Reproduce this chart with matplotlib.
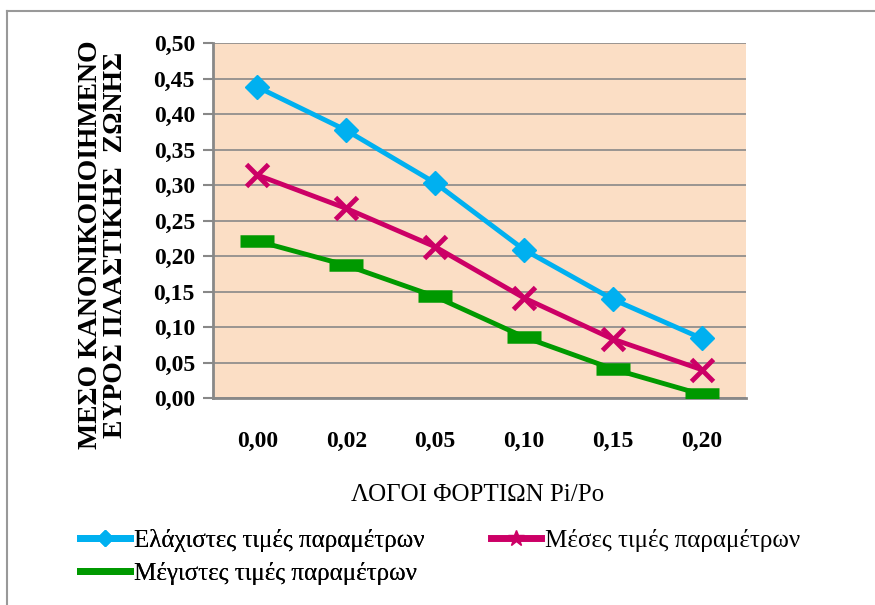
import numpy as np
import matplotlib.pyplot as plt
from matplotlib.lines import Line2D

# data
ratios = ['0,00', '0,02', '0,05', '0,10', '0,15', '0,20']
min_vals = [0.438, 0.377, 0.303, 0.209, 0.139, 0.084]
mean_vals = [0.314, 0.267, 0.213, 0.141, 0.083, 0.040]
max_vals = [0.221, 0.187, 0.143, 0.086, 0.041, 0.005]
series_names = ['Ελάχιστες τιμές παραμέτρων', 'Μέσες τιμές παραμέτρων', 'Μέγιστες τιμές παραμέτρων']
yticks = [0.0, 0.05, 0.10, 0.15, 0.20, 0.25, 0.30, 0.35, 0.40, 0.45, 0.50]

serif = ['Liberation Serif', 'DejaVu Serif']
plt.rcParams['font.family'] = serif

fig = plt.figure(figsize=(8.75, 6.05), dpi=100)
ax = fig.add_axes([213/875, 1-398/605, (746-213)/875, (398-43)/605])
ax.set_facecolor('#FBDEC5')

x = np.arange(len(ratios))
ax.plot(x, min_vals, color='#00B0F0', lw=3.5, marker='D', ms=12, zorder=3)
ax.plot(x, mean_vals, color='#CC0066', lw=3.5, marker='x', ms=16, mew=3.5, zorder=3)
ax.plot(x, max_vals, color='#009900', lw=3.5, marker='_', ms=24, mew=9, zorder=3)

ax.set_xlim(-0.5, 5.5)
ax.set_ylim(0, 0.5)
ax.set_yticks(yticks)
ax.set_yticklabels([f'{v:.2f}'.replace('.', ',') for v in yticks], fontsize=17, fontweight='bold', family=serif)
ax.set_xticks(x)
ax.set_xticklabels(ratios, fontsize=17, fontweight='bold', family=serif)
ax.tick_params(axis='x', length=0, pad=24)
ax.tick_params(axis='y', length=7, width=1.5, color='#888888', pad=6)
ax.grid(axis='y', color='#888888', lw=1.2)
ax.set_axisbelow(True)
for s in ['top', 'right']:
    ax.spines[s].set_visible(False)
for s in ['left', 'bottom']:
    ax.spines[s].set_color('#888888')
    ax.spines[s].set_linewidth(2)

fig.text(103/875, 1-245/605, 'ΜΕΣΟ ΚΑΝΟΝΙΚΟΠΟΙΗΜΕΝΟ\nΕΥΡΟΣ ΠΛΑΣΤΙΚΗΣ  ΖΩΝΗΣ', rotation=90,
         ha='center', va='center', fontsize=20, fontweight='bold', linespacing=0.95, family=serif)
fig.text(478/875, 1-495/605, 'ΛΟΓΟΙ ΦΟΡΤΙΩΝ Pi/Po', ha='center', va='center', fontsize=18, family=serif)

# legend, laid out in two columns like the reference
h_min = Line2D([], [], color='#00B0F0', lw=5, marker='D', ms=8)
h_mean = Line2D([], [], color='#CC0066', lw=5, marker='*', ms=12)
h_max = Line2D([], [], color='#009900', lw=5)
leg_kw = dict(loc='upper left', frameon=False, borderaxespad=0, borderpad=0,
              handlelength=2.0, handletextpad=0.15, labelspacing=0.4,
              prop={'family': serif, 'size': 18})
leg1 = fig.legend([h_min, h_max], [series_names[0], series_names[2]],
                  bbox_to_anchor=(80/875, 1-529/605), **leg_kw)
fig.legend([h_mean], [series_names[1]], bbox_to_anchor=(491/875, 1-529/605), **leg_kw)
fig.add_artist(leg1)

# outer chart frame
fig.add_artist(Line2D([7/875, 1], [1-11/605, 1-11/605], color='#999999', lw=1.5))
fig.add_artist(Line2D([7/875, 7/875], [0, 1-11/605], color='#999999', lw=1.5))

plt.savefig('out.png', dpi=100)
